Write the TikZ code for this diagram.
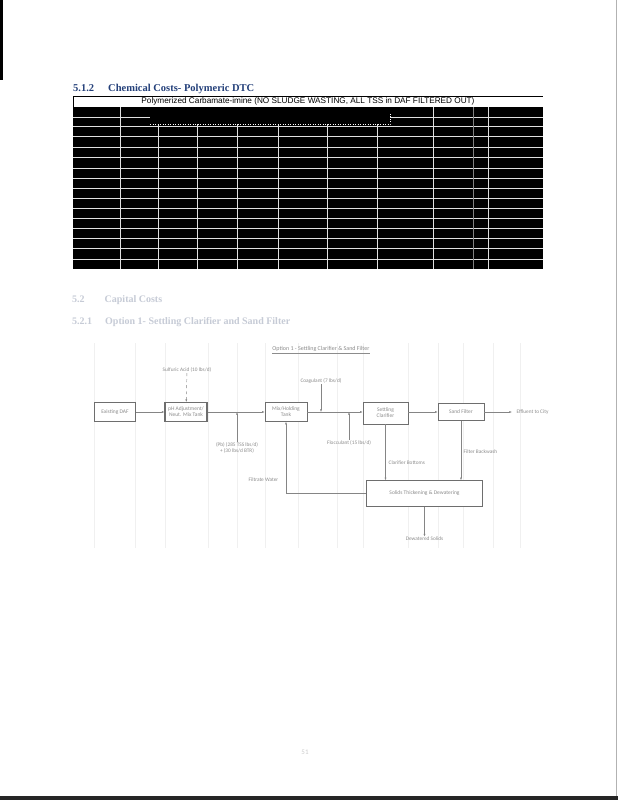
\documentclass[tikz,border=0pt]{standalone}
\usepackage{fontspec}
\usepackage{graphicx}
\setmainfont{Liberation Serif}
\newfontfamily\arialfont{Liberation Sans}
\newfontfamily\calfont{Carlito}
\usetikzlibrary{arrows.meta}

\definecolor{headblue}{HTML}{24407A}
\definecolor{fadeblue}{HTML}{C6CBD6}
\definecolor{dgtext}{HTML}{8C8C8C}
\definecolor{dgline}{HTML}{858585}
\definecolor{boxgray}{HTML}{6E6E6E}

\begin{document}
\begin{tikzpicture}[x=1pt,y=-1pt,
  tline/.style={white!88!black, line width=0.8pt},
  blk/.style={draw=boxgray, line width=0.6pt, fill=white, align=center, text=dgtext,
    font=\calfont\fontsize{5.5}{6.2}\selectfont, inner sep=1pt},
  lbl/.style={text=dgtext, align=center, inner sep=0.5pt,
    font=\calfont\fontsize{5.3}{6}\selectfont},
  flow/.style={draw=dgline, line width=0.45pt, -{Latex[length=2.6pt,width=2pt]}}]
\useasboundingbox (0,0) rectangle (618,800);
\fill[white] (0,0) rectangle (618,800);

% page edges of the scan
\fill[black] (0,0) rectangle (3,80);
\draw[gray!60, line width=0.5pt] (616,0) -- (616,800);
\fill[black!85] (0,796) rectangle (618,800);

% heading and table
\node[anchor=west, inner sep=0, text=headblue, font=\bfseries\fontsize{10.5}{12}\selectfont] (h1) at (73,89)
  {5.1.2\hspace{14pt}Chemical Costs- Polymeric DTC};
\node[inner sep=0] (ttl) at (308,101.5)
  {\resizebox{333pt}{!}{\arialfont Polymerized Carbamate-imine (NO SLUDGE WASTING, ALL TSS in DAF FILTERED OUT)}};
\draw[black, line width=0.8pt] (73,107) |- (543,96);
\fill[black] (73,107) rectangle (543,269);
\foreach \y in {126,136,147,157,168,178,188,198,208,218,228,238,248,259}
  \draw[tline] (73,\y) -- (543,\y);
\draw[tline] (73,117) -- (150,117) (390,117) -- (543,117);
\foreach \x in {120,158,197,237,278,327,377,433,488}
  \draw[tline] (\x,124) -- (\x,269);
\foreach \x in {120,433,488}
  \draw[tline] (\x,107) -- (\x,124);
\draw[gray, line width=0.4pt] (473,107) -- (473,269);
\draw[white, dotted, line width=0.5pt] (150,124) -- (390,124) -- (390,113);

% faded section headings
\node[anchor=west, inner sep=0, text=fadeblue, font=\bfseries\fontsize{10}{12}\selectfont] (h2) at (72,300)
  {5.2\hspace{20pt}Capital Costs};
\node[anchor=west, inner sep=0, text=fadeblue, font=\bfseries\fontsize{10}{12}\selectfont] (h3) at (72,322)
  {5.2.1\hspace{13pt}Option 1- Settling Clarifier and Sand Filter};

% faint page guides of the drawing
\foreach \x in {94,135,165,208,237,265,298,337,363,408,438,463,493,520}
  \draw[gray!12, line width=0.4pt] (\x,343) -- (\x,548);

% flow diagram
\node[lbl, font=\calfont\fontsize{6}{7}\selectfont] (opt) at (321,350)
  {\underline{Option 1 - Settling Clarifier \& Sand Filter}};

\node[blk, minimum width=41pt, minimum height=19pt] (daf) at (115,412) {Existing DAF};
\node[blk, minimum width=42pt, minimum height=19pt, line width=1.1pt] (neut) at (186,412) {pH Adjustment/\\Neut. Mix Tank};
\node[blk, minimum width=42pt, minimum height=19pt] (mix) at (286,412) {Mix/Holding\\Tank};
\node[blk, minimum width=45pt, minimum height=22pt] (clar) at (385.5,413) {Settling\\Clarifier};
\node[blk, minimum width=46pt, minimum height=17pt] (sand) at (461,412) {Sand Filter};
\node[blk, minimum width=116pt, minimum height=26pt] (sol) at (424.5,493.5) {Solids Thickening \& Dewatering};

\node[lbl] (acid) at (187,370) {Sulfuric Acid (10 lbs/d)};
\node[lbl] (coag) at (321,381) {Coagulant (7 lbs/d)};
\node[lbl] (tss) at (237,448) {(Pb) (285 TSS lbs/d)\\+ (30 lbs/d BTR)};
\node[lbl] (floc) at (349,443) {Flocculant (15 lbs/d)};
\node[lbl, anchor=west] (clbot) at (388,463) {Clarifier Bottoms};
\node[lbl, anchor=west] (fbw) at (463,452) {Filter Backwash};
\node[lbl, anchor=east] (filt) at (279,480) {Filtrate Water};
\node[lbl, anchor=west] (effl) at (516,412) {Effluent to City};
\node[lbl] (dew) at (424.5,539) {Dewatered Solids};

\coordinate (j1) at (237,412);
\coordinate (j2) at (321,412);
\coordinate (j3) at (349,412);

\path[flow] (daf) -- (neut);
\path[flow, dashed] (acid) -- (neut);
\path[flow] (neut) -- (mix);
\path[flow] (tss) -- (j1);
\path[flow] (mix.east) -- (mix.east -| clar.west);
\path[flow] (coag) -- (j2);
\path[flow] (floc) -- (j3);
\path[flow] (clar.east |- sand.west) -- (sand.west);
\path[flow, shorten >=4pt] (sand) -- (effl);
\path[flow] (clar.south) -- (clar.south |- sol.north);
\path[flow] (sand.south) -- (sand.south |- sol.north);
\path[flow] (sol.west) -| (mix.south);
\path[flow] (sol) -- (dew);

% page number
\node[text=gray!40, font=\calfont\fontsize{7}{8}\selectfont] (pg) at (305,752) {51};
\end{tikzpicture}
\end{document}
